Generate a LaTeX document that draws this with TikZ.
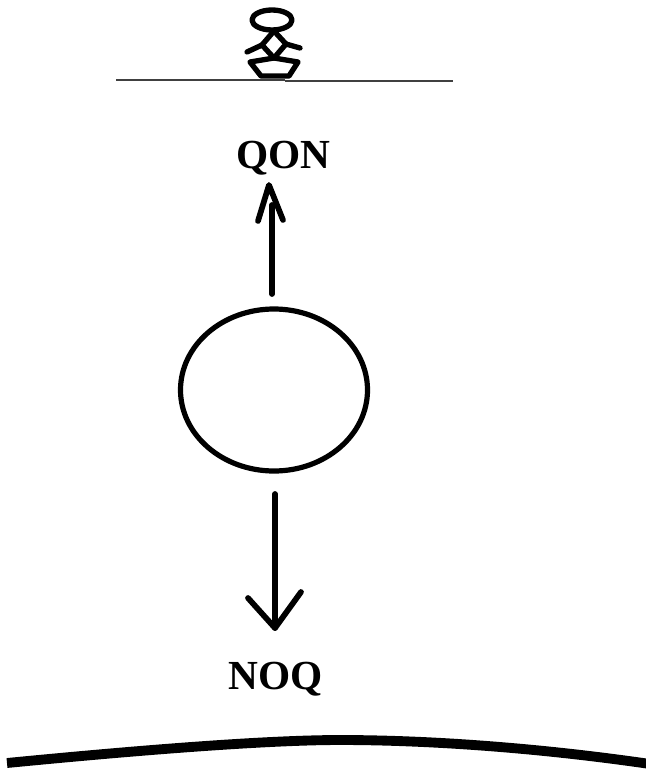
\documentclass[tikz,border=0pt]{standalone}
\usepackage{fontspec}
\setmainfont{Liberation Serif}
\usetikzlibrary{shapes.geometric}

\begin{document}
\begin{tikzpicture}[x=0.75pt, y=-0.75pt, line cap=round, line join=round,
    every node/.append style={inner sep=0pt},
    label/.style={font=\bfseries\fontsize{31}{33}\selectfont, text=black},
    stroke/.style={draw=black, line width=4.3pt},
    figure/.style={draw=black, line width=4pt},
    ball/.style={ellipse, draw=black, line width=3.9pt, minimum width=187pt*0.75, minimum height=162pt*0.75}]
  \useasboundingbox (0,0) rectangle (646,771);

  % figure on the line
  \node[ellipse, figure, minimum width=40pt*0.75, minimum height=20pt*0.75] (head) at (272,20) {};
  \coordinate (top) at (274,31);
  \coordinate (left) at (262,45);
  \coordinate (right) at (286,44);
  \coordinate (bottom) at (274,58);
  \coordinate (handl) at (247,52);
  \coordinate (handr) at (300,48);
  \draw[figure] (top) -- (right) -- (bottom) -- (left) -- cycle;
  \draw[figure] (left) -- (handl);
  \draw[figure] (right) -- (handr);
  \draw[figure] (bottom) -- (250,62) -- (261,76) -- (289,76) -- (298,62) -- cycle;

  \coordinate (linea) at (116,80);
  \coordinate (lineb) at (285,80);
  \coordinate (linec) at (285,81);
  \coordinate (lined) at (453,81);
  \draw[black!75, line width=0.8pt, line cap=butt] (linea) -- (lineb);
  \draw[black!75, line width=0.8pt, line cap=butt] (linec) -- (lined);

  % labels and ball
  \node[label] (qon) at (283.5,158) {QON};
  \node[ball] (ball) at (274,390) {};
  \node[label] (noq) at (276,679) {NOQ};

  % arrows
  \coordinate (upstart) at (272,294);
  \coordinate (upneck) at (272,205);
  \coordinate (uptip) at (269,185);
  \coordinate (upl) at (258,221);
  \coordinate (upr) at (283,220);
  \draw[stroke] (upstart) -- (upneck);
  \draw[stroke] (upl) -- (uptip) -- (upr);

  \coordinate (downstart) at (275,494);
  \coordinate (downtip) at (275,628);
  \coordinate (downl) at (248,598);
  \coordinate (downr) at (301,592);
  \draw[stroke] (downstart) -- (downtip);
  \draw[stroke] (downl) -- (downtip) -- (downr);

  % ground
  \coordinate (grounda) at (7,763);
  \coordinate (groundb) at (340,740);
  \coordinate (groundc) at (650,764);
  \draw[black, line width=7.4pt, line cap=butt] (grounda) .. controls (120,752) and (260,740) .. (groundb)
    .. controls (430,740) and (540,748) .. (groundc);
\end{tikzpicture}
\end{document}
